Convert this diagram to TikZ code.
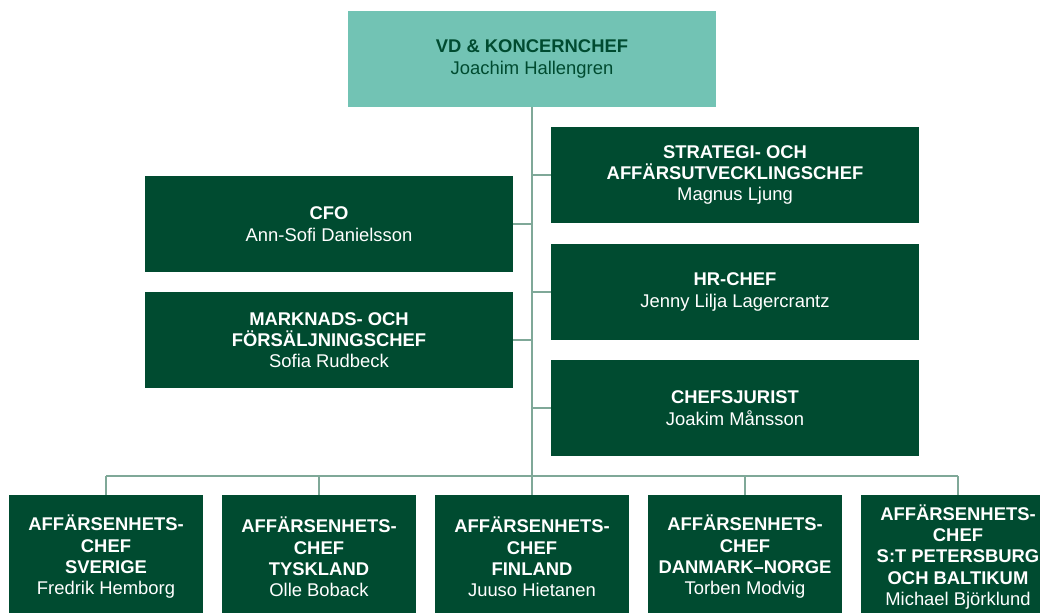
\documentclass[tikz,border=0pt]{standalone}
\usepackage{fontspec}
\setmainfont{Liberation Sans}
\usetikzlibrary{positioning}
\definecolor{boxgreen}{HTML}{004B30}
\definecolor{ceoteal}{HTML}{72C3B4}
\definecolor{linkgreen}{HTML}{7FA898}
\tikzset{unit/.style = {fill=boxgreen, text=white, inner sep=0, align=center,
                        minimum width=276pt, minimum height=72pt,
                        font=\fontsize{13.8}{16}\selectfont\bfseries}}
\tikzset{ceobox/.style = {unit, fill=ceoteal, text=boxgreen}}
\tikzset{bubox/.style = {unit, minimum width=145.5pt, minimum height=93pt}}
\tikzset{link/.style = {draw=linkgreen, line width=1.1pt}}
\newcommand{\who}{\mdseries}

\begin{document}
\begin{tikzpicture}[x=0.75pt, y=-0.75pt]
      \useasboundingbox (0, 0) rectangle (1040, 612);
      \clip (0, 0) rectangle (1040, 612);

      \node (ceo) at (532, 59) [ceobox] {VD \& KONCERNCHEF\\\who Joachim Hallengren};

      \node (strategy) at (735, 175) [unit] {STRATEGI- OCH\\AFFÄRSUTVECKLINGSCHEF\\\who Magnus Ljung};
      \node (hr) at (735, 292) [unit] {HR-CHEF\\\who Jenny Lilja Lagercrantz};
      \node (legal) at (735, 408) [unit] {CHEFSJURIST\\\who Joakim Månsson};
      \node (cfo) at (329, 224) [unit] {CFO\\\who Ann-Sofi Danielsson};
      \node (sales) at (329, 340) [unit] {MARKNADS- OCH\\FÖRSÄLJNINGSCHEF\\\who Sofia Rudbeck};

      \node (sweden) at (106, 557) [bubox] {AFFÄRSENHETS-\\CHEF\\SVERIGE\\\who Fredrik Hemborg};
      \node (germany) at (319, 557) [bubox] {AFFÄRSENHETS-\\CHEF\\TYSKLAND\\\who Olle Boback};
      \node (finland) at (532, 557) [bubox] {AFFÄRSENHETS-\\CHEF\\FINLAND\\\who Juuso Hietanen};
      \node (denmark) at (745, 557) [bubox] {AFFÄRSENHETS-\\CHEF\\DANMARK–NORGE\\\who Torben Modvig};
      \node (baltic) at (958, 557) [bubox] {AFFÄRSENHETS-\\CHEF\\S:T PETERSBURG\\OCH BALTIKUM\\\who Michael Björklund};

      % trunk and bus
      \coordinate (bus) at (532, 476);
      \draw [link, line width=1.5pt] (ceo.south) -- (bus);
      \draw [link] (bus -| sweden.north) -- (bus -| baltic.north);

      % staff
      \foreach \staff in {strategy, hr, legal}
        \draw [link] (\staff.west) -- (\staff.west -| ceo.south);
      \foreach \staff in {cfo, sales}
        \draw [link] (\staff.east) -- (\staff.east -| ceo.south);

      % business units
      \foreach \bu in {sweden, germany, finland, denmark, baltic}
        \draw [link] (bus -| \bu.north) -- (\bu.north);
    \end{tikzpicture}
\end{document}
